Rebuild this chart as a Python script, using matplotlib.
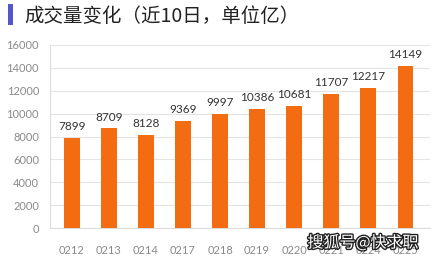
import matplotlib.pyplot as plt
import matplotlib.patheffects as pe
import numpy as np

plt.rcParams['font.family'] = ['Lato', 'Noto Sans CJK SC', 'DejaVu Sans']

dates = ["0212", "0213", "0214", "0217", "0218", "0219", "0220", "0221", "0224", "0225"]
volume = [7899, 8709, 8128, 9369, 9997, 10386, 10681, 11707, 12217, 14149]
y_ticks = [0, 2000, 4000, 6000, 8000, 10000, 12000, 14000, 16000]

BAR_COLOR = "#F46C12"

fig = plt.figure(figsize=(4.32, 2.61), dpi=100)
ax = fig.add_axes([0.116, 0.126, 0.88, 0.702])

x = np.arange(len(dates))
ax.bar(x, volume, width=0.41, color=BAR_COLOR, zorder=3)

# value labels on top of bars
for xi, v in zip(x, volume):
    ax.text(xi, v + 500, str(v), ha="center", va="bottom",
            fontsize=8.5, color="#333333")

ax.set_xlim(-0.59, 9.68)
ax.set_ylim(0, 16000)
ax.set_yticks(y_ticks)
ax.set_yticklabels([str(t) for t in y_ticks])
ax.set_xticks(x)
ax.set_xticklabels(dates)
ax.tick_params(axis="both", length=0, labelsize=8, labelcolor="#8a8a8a")
ax.tick_params(axis="x", pad=12)
ax.tick_params(axis="y", pad=8)

ax.grid(axis="y", color="#e4e4e4", linewidth=0.8, zorder=0)
for side in ["top", "right"]:
    ax.spines[side].set_visible(False)
ax.spines["left"].set_color("#dcdcdc")
ax.spines["bottom"].set_color("#dcdcdc")

# title marker bar: a tiny filled axes at the top left
mark = fig.add_axes([8 / 432, 1 - 25 / 261, 5 / 432, 21 / 261])
mark.set_facecolor("#5457c9")
mark.set_xticks([])
mark.set_yticks([])
for s in mark.spines.values():
    s.set_visible(False)

fig.text(24 / 432, 1 - 17 / 261, "成交量变化（近10日，单位亿）",
         fontsize=14, color="#222222", va="center", ha="left",
         family=["Noto Sans CJK SC", "DejaVu Sans"])

# watermark
fig.text(363 / 432, 1 - 243 / 261, "搜狐号@快求职", fontsize=11.5, color="white",
         ha="center", va="center", family=["Noto Sans CJK SC", "DejaVu Sans"],
         path_effects=[pe.withStroke(linewidth=2, foreground="#222222")])

plt.savefig("out.png", dpi=100)
